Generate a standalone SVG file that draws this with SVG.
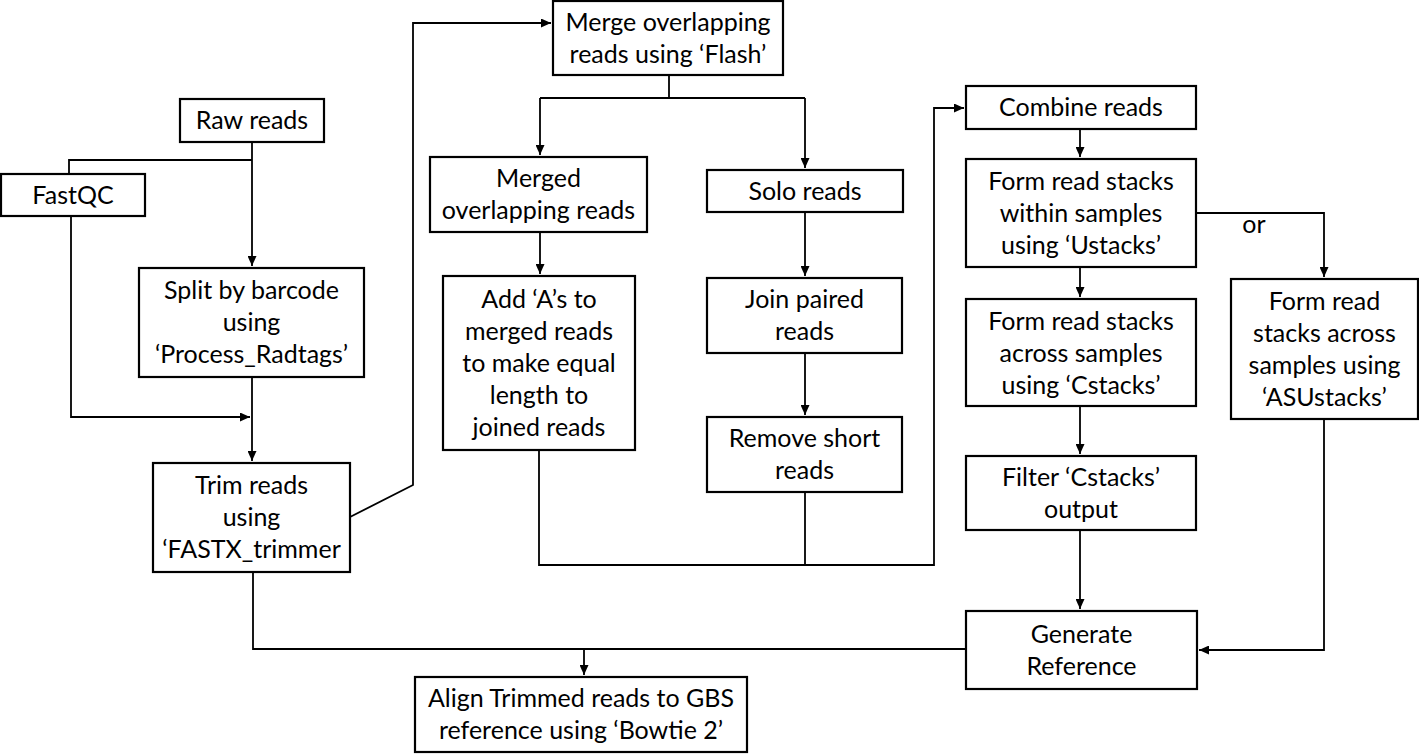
<svg xmlns="http://www.w3.org/2000/svg" width="1419" height="754" viewBox="0 0 1419 754">
<style>
.box{fill:#fff;stroke:#000;stroke-width:2.2}
.t{font-family:Lato,"Liberation Sans",sans-serif;font-size:25px;fill:#000;text-anchor:middle}
.c{fill:none;stroke:#000;stroke-width:1.8}
</style>
<defs>
<marker id="ah" markerUnits="userSpaceOnUse" markerWidth="10" markerHeight="9" refX="10" refY="4.5" orient="auto">
<path d="M0,0 L10,4.5 L0,9 z" fill="#000"/>
</marker>
</defs>
<rect width="1419" height="754" fill="#fff"/>
<g id="connectors">
<path class="c" d="M252 142 V266" marker-end="url(#ah)"/>
<path class="c" d="M252 160 H69 V174"/>
<path class="c" d="M71 216 V417 H250" marker-end="url(#ah)"/>
<path class="c" d="M252 377 V461" marker-end="url(#ah)"/>
<path class="c" d="M350 517 L413 485 V23 H551" marker-end="url(#ah)"/>
<path class="c" d="M669 75 V98"/>
<path class="c" d="M540 98 H805"/>
<path class="c" d="M540 98 V155" marker-end="url(#ah)"/>
<path class="c" d="M805 98 V168" marker-end="url(#ah)"/>
<path class="c" d="M540 232 V274" marker-end="url(#ah)"/>
<path class="c" d="M805 212 V276" marker-end="url(#ah)"/>
<path class="c" d="M805 353 V415" marker-end="url(#ah)"/>
<path class="c" d="M539 450 V565 H934 V108 H964" marker-end="url(#ah)"/>
<path class="c" d="M805 492 V565"/>
<path class="c" d="M1080 129 V157" marker-end="url(#ah)"/>
<path class="c" d="M1080 267 V297" marker-end="url(#ah)"/>
<path class="c" d="M1080 406 V454" marker-end="url(#ah)"/>
<path class="c" d="M1080 530 V609" marker-end="url(#ah)"/>
<path class="c" d="M1196 213 H1324 V277" marker-end="url(#ah)"/>
<path class="c" d="M1324 419 V650 H1199" marker-end="url(#ah)"/>
<path class="c" d="M253 572 V649 H966"/>
<path class="c" d="M584 649 V675" marker-end="url(#ah)"/>
<text class="t" x="1254" y="233">or</text>
</g>
<g id="merge"><rect class="box" x="553" y="1" width="230" height="74"/><text class="t" x="668" y="31">Merge overlapping</text><text class="t" x="668" y="63">reads using ‘Flash’</text></g>
<g id="raw"><rect class="box" x="180" y="99" width="144" height="43"/><text class="t" x="252" y="129">Raw reads</text></g>
<g id="fastqc"><rect class="box" x="1" y="174" width="144" height="42"/><text class="t" x="73" y="204">FastQC</text></g>
<g id="split"><rect class="box" x="139" y="268" width="225" height="109"/><text class="t" x="251.5" y="299">Split by barcode</text><text class="t" x="251.5" y="331">using</text><text class="t" x="251.5" y="363">‘Process_Radtags’</text></g>
<g id="trim"><rect class="box" x="153" y="463" width="197" height="109"/><text class="t" x="251.5" y="494">Trim reads</text><text class="t" x="251.5" y="526">using</text><text class="t" x="251.5" y="558">‘FASTX_trimmer</text></g>
<g id="merged"><rect class="box" x="430" y="157" width="217" height="75"/><text class="t" x="538.5" y="187">Merged</text><text class="t" x="538.5" y="219">overlapping reads</text></g>
<g id="solo"><rect class="box" x="707" y="170" width="196" height="42"/><text class="t" x="805" y="200">Solo reads</text></g>
<g id="addA"><rect class="box" x="443" y="276" width="192" height="174"/><text class="t" x="539" y="308">Add ‘A’s to</text><text class="t" x="539" y="340">merged reads</text><text class="t" x="539" y="372">to make equal</text><text class="t" x="539" y="404">length to</text><text class="t" x="539" y="436">joined reads</text></g>
<g id="join"><rect class="box" x="707" y="278" width="195" height="75"/><text class="t" x="804.5" y="308">Join paired</text><text class="t" x="804.5" y="340">reads</text></g>
<g id="remove"><rect class="box" x="707" y="417" width="195" height="75"/><text class="t" x="804.5" y="447">Remove short</text><text class="t" x="804.5" y="479">reads</text></g>
<g id="combine"><rect class="box" x="966" y="86" width="230" height="43"/><text class="t" x="1081" y="116">Combine reads</text></g>
<g id="ustacks"><rect class="box" x="966" y="159" width="230" height="108"/><text class="t" x="1081" y="190">Form read stacks</text><text class="t" x="1081" y="222">within samples</text><text class="t" x="1081" y="254">using ‘Ustacks’</text></g>
<g id="cstacks"><rect class="box" x="966" y="299" width="230" height="107"/><text class="t" x="1081" y="330">Form read stacks</text><text class="t" x="1081" y="362">across samples</text><text class="t" x="1081" y="394">using ‘Cstacks’</text></g>
<g id="filter"><rect class="box" x="966" y="456" width="230" height="74"/><text class="t" x="1081" y="486">Filter ‘Cstacks’</text><text class="t" x="1081" y="518">output</text></g>
<g id="asustacks"><rect class="box" x="1231" y="279" width="187" height="140"/><text class="t" x="1324.5" y="310">Form read</text><text class="t" x="1324.5" y="342">stacks across</text><text class="t" x="1324.5" y="374">samples using</text><text class="t" x="1324.5" y="406">‘ASUstacks’</text></g>
<g id="generate"><rect class="box" x="966" y="611" width="231" height="78"/><text class="t" x="1081.5" y="643">Generate</text><text class="t" x="1081.5" y="675">Reference</text></g>
<g id="align"><rect class="box" x="415" y="677" width="332" height="75"/><text class="t" x="581" y="707">Align Trimmed reads to GBS</text><text class="t" x="581" y="739">reference using ‘Bowtie 2’</text></g>
</svg>
